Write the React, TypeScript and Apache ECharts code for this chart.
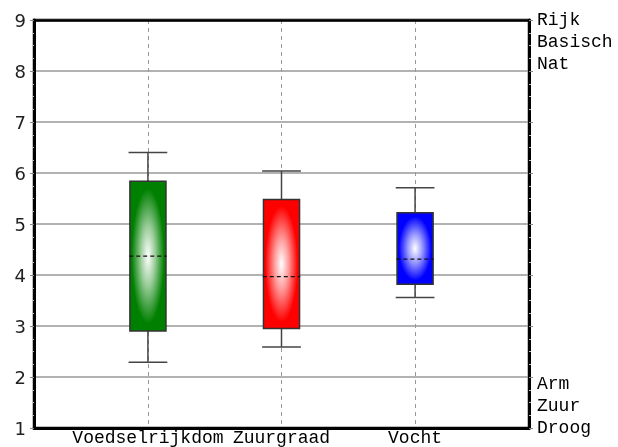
import React, { useEffect, useRef } from 'react';
import * as echarts from 'echarts';

const categories = ['Voedselrijkdom', 'Zuurgraad', 'Vocht'];
const positions = [1, 2, 3];
const whiskerLow = [2.29, 2.59, 3.56];
const quartile1 = [2.9, 2.95, 3.82];
const medians = [4.37, 3.97, 4.31];
const quartile3 = [5.84, 5.48, 5.22];
const whiskerHigh = [6.4, 6.04, 5.71];
const boxColors = ['#008000', '#ff0000', '#0000ff'];
const rightTopLabels = ['Rijk', 'Basisch', 'Nat'];
const rightBottomLabels = ['Arm', 'Zuur', 'Droog'];
const yMin = 1;
const yMax = 9;

function mixWhite(hex: string, t: number) {
  const n = parseInt(hex.slice(1), 16);
  const r = (n >> 16) & 255, g = (n >> 8) & 255, b = n & 255;
  const m = (c: number) => Math.round(c + (255 - c) * t);
  return `rgb(${m(r)},${m(g)},${m(b)})`;
}

export default function App() {
  const ref = useRef<HTMLDivElement>(null);
  useEffect(() => {
    document.body.style.margin = '0';
    const chart = echarts.init(ref.current!, null, { renderer: 'svg' });
    const data = positions.map((p, i) => [p, whiskerLow[i], quartile1[i], medians[i], quartile3[i], whiskerHigh[i]]);
    const renderItem = (params: any, api: any) => {
      const x = api.value(0);
      const lo = api.coord([x, api.value(1)]);
      const b1 = api.coord([x, api.value(2)]);
      const md = api.coord([x, api.value(3)]);
      const b3 = api.coord([x, api.value(4)]);
      const hi = api.coord([x, api.value(5)]);
      const unit = api.size([1, 0])[0];
      const bw = unit * 0.27;
      const cw = unit * 0.29;
      const mw = unit * 0.28;
      const cx = lo[0];
      const color = boxColors[params.dataIndex];
      const lineStyle = { stroke: '#444', lineWidth: 1.5 };
      return {
        type: 'group',
        children: [
          { type: 'line', shape: { x1: cx, y1: hi[1], x2: cx, y2: b3[1] }, style: lineStyle },
          { type: 'line', shape: { x1: cx, y1: b1[1], x2: cx, y2: lo[1] }, style: lineStyle },
          { type: 'line', shape: { x1: cx - cw / 2, y1: hi[1], x2: cx + cw / 2, y2: hi[1] }, style: lineStyle },
          { type: 'line', shape: { x1: cx - cw / 2, y1: lo[1], x2: cx + cw / 2, y2: lo[1] }, style: lineStyle },
          {
            type: 'rect',
            shape: { x: cx - bw / 2, y: b3[1], width: bw, height: b1[1] - b3[1] },
            style: {
              fill: new echarts.graphic.RadialGradient(0.5, 0.5, 0.5, [
                { offset: 0, color: '#ffffff' },
                { offset: 0.4, color: mixWhite(color, 0.6) },
                { offset: 0.9, color: color },
                { offset: 1, color: color },
              ]),
              stroke: '#333',
              lineWidth: 1.5,
            },
          },
          {
            type: 'line',
            shape: { x1: cx - mw / 2, y1: md[1], x2: cx + mw / 2, y2: md[1] },
            style: { stroke: '#111', lineWidth: 1.3, lineDash: [4, 3] },
          },
        ],
      };
    };
    chart.setOption({
      animation: false,
      grid: {
        left: 34, right: 89, top: 20, bottom: 19,
        show: true, borderColor: '#000', borderWidth: 2.5,
        outerBoundsMode: 'none', containLabel: false,
      },
      xAxis: [
        {
          type: 'value',
          min: 0.147,
          max: 3.853,
          axisLine: { show: true, onZero: false, lineStyle: { color: '#000', width: 3 } },
          axisTick: { show: false, customValues: positions },
          splitLine: { show: true, lineStyle: { color: '#999', width: 1, type: [4, 4] } },
          axisLabel: {
            customValues: positions,
            formatter: (v: number) => categories[positions.indexOf(Math.round(v))] ?? '',
            fontFamily: 'Liberation Mono',
            fontSize: 18,
            color: '#000',
            margin: 1,
          },
        },
        {
          type: 'value',
          position: 'top',
          min: 0.147,
          max: 3.853,
          axisLine: { show: true, onZero: false, lineStyle: { color: '#000', width: 2.5 } },
          axisTick: { show: false },
          splitLine: { show: false },
          axisLabel: { show: false },
        },
      ],
      yAxis: [
        {
          type: 'value',
          min: yMin,
          max: yMax,
          interval: 1,
          position: 'left',
          axisLine: { show: true, lineStyle: { color: '#000', width: 3 } },
          axisTick: { show: true, length: 4, lineStyle: { color: '#888' } },
          minorTick: { show: true, splitNumber: 4, length: 2, lineStyle: { color: '#bbb' } },
          splitLine: { show: true, lineStyle: { color: '#999', width: 1.5 } },
          axisLabel: { fontFamily: 'DejaVu Sans', fontSize: 18, color: '#222', margin: 8 },
        },
        {
          type: 'value',
          min: yMin,
          max: yMax,
          interval: 1,
          position: 'right',
          axisLine: { show: true, lineStyle: { color: '#000', width: 3 } },
          axisTick: { show: true, length: 4, lineStyle: { color: '#888' } },
          minorTick: { show: true, splitNumber: 4, length: 2, lineStyle: { color: '#bbb' } },
          splitLine: { show: false },
          axisLabel: {
            fontFamily: 'Liberation Mono',
            fontSize: 18,
            color: '#000',
            margin: 8,
            lineHeight: 22,
            formatter: (v: number) => {
              if (v === yMax) return '\n\n' + rightTopLabels.join('\n');
              if (v === yMin) return rightBottomLabels.join('\n') + '\n\n';
              return '';
            },
          },
        },
      ],
      series: [
        {
          type: 'custom',
          renderItem,
          data,
          xAxisIndex: 0,
          yAxisIndex: 0,
          encode: { x: 0, y: [1, 2, 3, 4, 5] },
          clip: false,
          z: 10,
        },
      ],
    });
    return () => chart.dispose();
  }, []);
  return <div ref={ref} style={{ position: 'fixed', left: 0, top: 0, width: 618, height: 447 }} />;
}
